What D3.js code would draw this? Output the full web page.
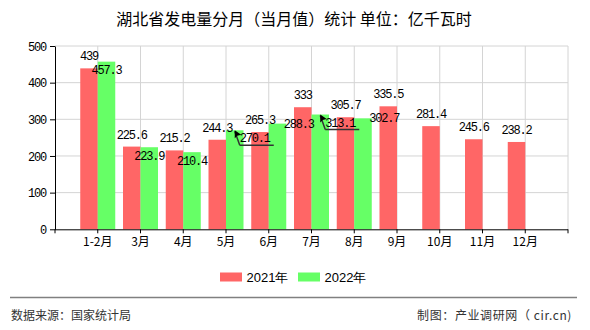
<!DOCTYPE html>
<html><head><meta charset="utf-8">
<script src="https://cdn.jsdelivr.net/npm/d3@7/dist/d3.min.js"></script>
<style>
body{margin:0;background:#fff;}
svg{display:block;}
</style></head>
<body>
<svg id="chart" width="590" height="330"></svg>
<script>
const categories = ["1-2月","3月","4月","5月","6月","7月","8月","9月","10月","11月","12月"];
const series2021 = [439, 225.6, 215.2, 244.3, 265.3, 333, 305.7, 335.5, 281.4, 245.6, 238.2];
const series2022 = [457.3, 223.9, 210.4, 270.1, 288.3, 313.1, 302.7];
const seriesNames = ["2021年", "2022年"];
const yTicks = [0, 100, 200, 300, 400, 500];
const title = "湖北省发电量分月（当月值）统计 单位：亿千瓦时";
const sourceText = "数据来源：国家统计局";
const makerText = "制图：产业调研网（ cir.cn)";
// label placement mode for 2022 labels (avoid collisions like the original)
const label2022Mode = ["inside","inside","inside","callout","right","callout","right"];

(function(){
const colors = ["#ff6666", "#66ff66"];
const numFont = "'Liberation Mono','DejaVu Sans Mono',monospace";
const cjkFont = "'Noto Sans CJK SC','Noto Sans',sans-serif";

const svg = d3.select("#chart");
const pL = 55, pR = 568, pT = 46, pB = 229.3;

const x = d3.scaleBand().domain(categories).range([pL, pR]).paddingInner(0).paddingOuter(0.5);
const y = d3.scaleLinear().domain([0, 500]).range([pB, pT]);
const bw = 17.5;
const cx = c => x(c) + x.bandwidth() / 2;

// grid
const g = svg.append("g");
g.selectAll("line.h").data(yTicks.filter(d => d > 0)).enter().append("line")
  .attr("x1", pL).attr("x2", pR).attr("y1", d => y(d)).attr("y2", d => y(d))
  .attr("stroke", "#d4d4d4").attr("stroke-width", 1);
g.selectAll("line.v").data(categories).enter().append("line")
  .attr("x1", d => cx(d)).attr("x2", d => cx(d)).attr("y1", pT).attr("y2", pB)
  .attr("stroke", "#d4d4d4").attr("stroke-width", 1);
g.append("line").attr("x1", pR).attr("x2", pR).attr("y1", pT).attr("y2", pB)
  .attr("stroke", "#d4d4d4");

// bars
svg.append("g").selectAll("rect").data(series2021).enter().append("rect")
  .attr("x", (d, i) => cx(categories[i]) - bw).attr("width", bw)
  .attr("y", d => y(d)).attr("height", d => pB - y(d)).attr("fill", colors[0]);
svg.append("g").selectAll("rect").data(series2022).enter().append("rect")
  .attr("x", (d, i) => cx(categories[i])).attr("width", bw)
  .attr("y", d => y(d)).attr("height", d => pB - y(d)).attr("fill", colors[1]);

// axes
const yAxis = svg.append("g").attr("transform", `translate(${pL},0)`)
  .call(d3.axisLeft(y).tickValues(yTicks).tickSize(5).tickSizeOuter(0).tickFormat(d3.format("d")));
yAxis.select(".domain").attr("stroke", "#000");
yAxis.selectAll(".tick line").attr("stroke", "#000");
yAxis.selectAll("text").attr("font-family", numFont).attr("font-size", 12)
  .attr("letter-spacing", -1.2).attr("fill", "#000").attr("x", -9).attr("dy", "0.35em");

const xAxis = svg.append("g").attr("transform", `translate(0,${pB})`)
  .call(d3.axisBottom(x).tickSize(4).tickSizeOuter(0));
xAxis.select(".domain").attr("stroke", "#000").attr("d", `M${pL},0.5H${pR}`);
xAxis.selectAll(".tick line").attr("stroke", "#000");
xAxis.selectAll("text").attr("font-family", cjkFont).attr("font-size", 12)
  .attr("fill", "#000").attr("y", 8);
[pL, pR].forEach(px => xAxis.append("line").attr("x1", px).attr("x2", px)
  .attr("y1", 0).attr("y2", 4).attr("stroke", "#000"));

// labels
const lab = svg.append("g").attr("font-family", numFont).attr("font-size", 12)
  .attr("letter-spacing", -1.2).attr("fill", "#000").attr("text-anchor", "middle");
lab.selectAll("text.a").data(series2021).enter().append("text")
  .attr("x", (d, i) => cx(categories[i]) - bw / 2)
  .attr("y", d => y(d) - 8).text(d => d);

series2022.forEach((d, i) => {
  const bx = cx(categories[i]) + bw / 2, by = y(d);
  const mode = label2022Mode[i];
  if (mode === "inside") {
    lab.append("text").attr("x", bx).attr("y", by + 12.5).text(d);
  } else if (mode === "right") {
    lab.append("text").attr("x", bx + x.bandwidth() / 2).attr("y", by + 4).text(d);
  } else {
    const lx = bx + 20, ly = by + 15;
    lab.append("text").attr("x", lx).attr("y", ly - 3).text(d);
    svg.append("path")
      .attr("d", `M${bx + 5},${ly}L${bx + 39},${ly}M${bx + 5},${ly}L${bx},${by + 1}`)
      .attr("stroke", "#333").attr("stroke-width", 1.5).attr("fill", "none");
    svg.append("path")
      .attr("d", `M${bx},${by}l0,8l2.5,-2.5l4,-1z`)
      .attr("fill", "#000");
  }
});

// title
svg.append("text").attr("x", 294).attr("y", 25).attr("text-anchor", "middle")
  .attr("font-family", cjkFont).attr("font-size", 16).attr("fill", "#000").text(title);

// legend
const leg = svg.append("g");
const legItems = [{n: seriesNames[0], c: colors[0], x: 220}, {n: seriesNames[1], c: colors[1], x: 298}];
legItems.forEach(it => {
  leg.append("rect").attr("x", it.x).attr("y", 272.5).attr("width", 22).attr("height", 9).attr("fill", it.c);
  leg.append("text").attr("x", it.x + 26.5).attr("y", 281.5).attr("font-family", "'Liberation Sans',Arial,sans-serif")
    .attr("font-size", 13).attr("fill", "#000").text(it.n);
});

// footer
svg.append("line").attr("x1", 10).attr("x2", 577).attr("y1", 297.5).attr("y2", 297.5)
  .attr("stroke", "#808080").attr("stroke-width", 1.3);
svg.append("text").attr("x", 11).attr("y", 320).attr("font-family", cjkFont).attr("font-size", 12)
  .attr("fill", "#333").text(sourceText);
svg.append("text").attr("x", 572).attr("y", 320).attr("text-anchor", "end").attr("font-family", cjkFont)
  .attr("font-size", 12).attr("letter-spacing", 0.6).attr("fill", "#333").text(makerText);
})();
</script>
</body></html>
